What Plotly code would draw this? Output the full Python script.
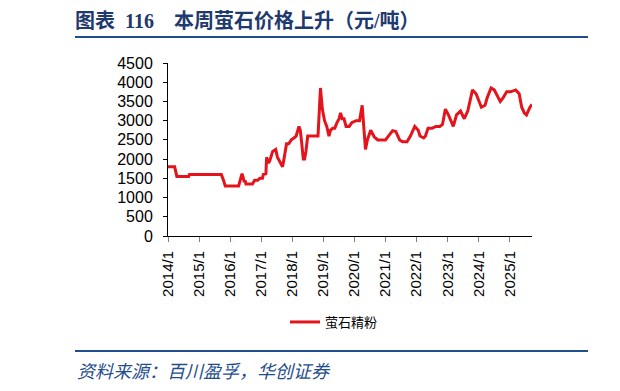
import plotly.graph_objects as go

dates = [
    "2014-01-01", "2014-03-20", "2014-04-15", "2014-09-01", "2014-09-10", "2015-09-20", "2015-10-15", "2015-11-05",
    "2016-04-10", "2016-04-25", "2016-05-20", "2016-06-05", "2016-06-15", "2016-06-25", "2016-07-05", "2016-09-20",
    "2016-10-15", "2016-11-20", "2016-12-15", "2017-01-15", "2017-01-25", "2017-02-25", "2017-03-05", "2017-03-25",
    "2017-04-10", "2017-05-15", "2017-06-20", "2017-07-10", "2017-08-05", "2017-09-08", "2017-09-25", "2017-10-25",
    "2017-11-20", "2017-12-20", "2018-01-20", "2018-02-15", "2018-03-20", "2018-04-05", "2018-04-20", "2018-05-10",
    "2018-05-25", "2018-06-10", "2018-07-01", "2018-10-30", "2018-11-28", "2018-12-20", "2019-01-15", "2019-02-10",
    "2019-03-08", "2019-03-25", "2019-04-20", "2019-05-15", "2019-06-10", "2019-07-05", "2019-07-22", "2019-08-10",
    "2019-09-01", "2019-09-25", "2019-11-01", "2019-12-01", "2020-01-20", "2020-03-01", "2020-04-01", "2020-05-10",
    "2020-06-01", "2020-07-10", "2020-08-20", "2020-10-01", "2020-12-31", "2021-02-01", "2021-03-25", "2021-05-01",
    "2021-06-15", "2021-07-20", "2021-09-10", "2021-10-20", "2021-12-10", "2022-01-20", "2022-02-10", "2022-03-25",
    "2022-04-15", "2022-05-15", "2022-07-01", "2022-08-15", "2022-10-01", "2022-11-01", "2022-12-05", "2023-01-10",
    "2023-03-08", "2023-04-15", "2023-06-01", "2023-07-15", "2023-08-25", "2023-10-20", "2023-12-01", "2024-02-01",
    "2024-03-15", "2024-04-10", "2024-05-25", "2024-07-01", "2024-09-10", "2024-10-15", "2024-11-25", "2025-01-10",
    "2025-03-10", "2025-04-20", "2025-05-20", "2025-06-20", "2025-07-15", "2025-08-25", "2025-09-18",
]
fluorite_powder = [
    1800, 1800, 1550, 1550, 1600, 1600, 1450, 1300,
    1300, 1450, 1620, 1500, 1400, 1450, 1350, 1350,
    1450, 1450, 1500, 1500, 1600, 1620, 2050, 1900,
    1950, 2200, 2250, 2050, 1950, 1800, 2000, 2400,
    2400, 2500, 2550, 2600, 2850, 2750, 2450, 2000,
    2000, 2200, 2600, 2600, 3850, 3300, 3000, 2850,
    2600, 2750, 2800, 2800, 2950, 3050, 3200, 3050,
    3050, 2850, 2850, 2950, 3000, 3000, 3400, 2250,
    2500, 2750, 2580, 2500, 2500, 2600, 2740, 2720,
    2500, 2450, 2450, 2600, 2850, 2750, 2600, 2550,
    2600, 2800, 2800, 2850, 2850, 2900, 3300, 3150,
    2850, 3150, 3250, 3050, 3250, 3800, 3700, 3350,
    3400, 3600, 3850, 3800, 3500, 3600, 3750, 3750,
    3800, 3700, 3350, 3200, 3150, 3350, 3420,
]
series_name = "萤石精粉"
title_text = "图表\u00a0\u00a0116\u00a0\u00a0\u00a0\u00a0本周萤石价格上升（元/吨）"
source_text = "资料来源：百川盈孚，华创证券"

# page body has an 8px margin; work in screen coordinates and shift
OFF = 8
W, H = 612, 375
L, R, T, B = 168 - OFF, 532 - OFF, 63 - OFF, 236 - OFF


def px(x):
    return (x - OFF - L) / (R - L)


def py(y):
    return (B - (y - OFF)) / (B - T)


navy = "#1F3A6E"
fig = go.Figure()
fig.add_trace(go.Scatter(
    x=dates, y=fluorite_powder, mode="lines", name=series_name,
    line=dict(color="#E3141C", width=3),
))

fig.update_layout(
    width=W, height=H,
    margin=dict(l=L, r=W - R, t=T, b=H - B),
    paper_bgcolor="white", plot_bgcolor="white",
    showlegend=True,
    legend=dict(orientation="h", x=px(285), xanchor="left", y=py(322), yanchor="middle",
                font=dict(family="Noto Sans CJK SC", size=13, color="black"),
                bgcolor="rgba(0,0,0,0)"),
    title=dict(text=title_text, x=(75 - OFF) / W, xanchor="left", y=1 - (21 - OFF) / H, yanchor="middle",
               font=dict(family="Liberation Serif, Noto Sans CJK SC", size=20, color=navy, weight="bold")),
    font=dict(family="Liberation Sans, Arial", size=14, color="black"),
)

fig.update_xaxes(
    range=["2014-01-01", "2025-09-18"], type="date",
    dtick="M12", tick0="2014-01-01", tickformat="%Y/%-m", tickangle=-90,
    showgrid=False, zeroline=False,
    showline=True, linecolor="black", linewidth=1,
    ticks="outside", ticklen=5, tickcolor="#808080", tickwidth=1,
    ticklabelstandoff=3,
    tickfont=dict(family="Liberation Sans, Arial", size=15, color="black"),
)
fig.update_yaxes(
    range=[0, 4500], dtick=500, tick0=0,
    showgrid=False, zeroline=False,
    showline=True, linecolor="black", linewidth=1,
    ticks="outside", ticklen=4, tickcolor="black", tickwidth=1,
    ticklabelstandoff=7,
    tickfont=dict(family="Liberation Sans, Arial", size=16, color="black"),
)

line_col = "#1F4E8C"
for yy in (37, 351):
    fig.add_shape(type="line", xref="paper", yref="paper", x0=px(75), x1=px(588), y0=py(yy), y1=py(yy),
                  line=dict(color=line_col, width=2))
    fig.add_shape(type="line", xref="paper", yref="paper", x0=px(612), x1=px(620), y0=py(yy), y1=py(yy),
                  line=dict(color=line_col, width=2))

fig.add_annotation(text=source_text, xref="paper", yref="paper", x=px(75), y=py(370),
                   xanchor="left", yanchor="middle", showarrow=False,
                   font=dict(family="Noto Sans CJK SC", size=18, color=line_col, style="italic"))

fig.write_html("out.html")
